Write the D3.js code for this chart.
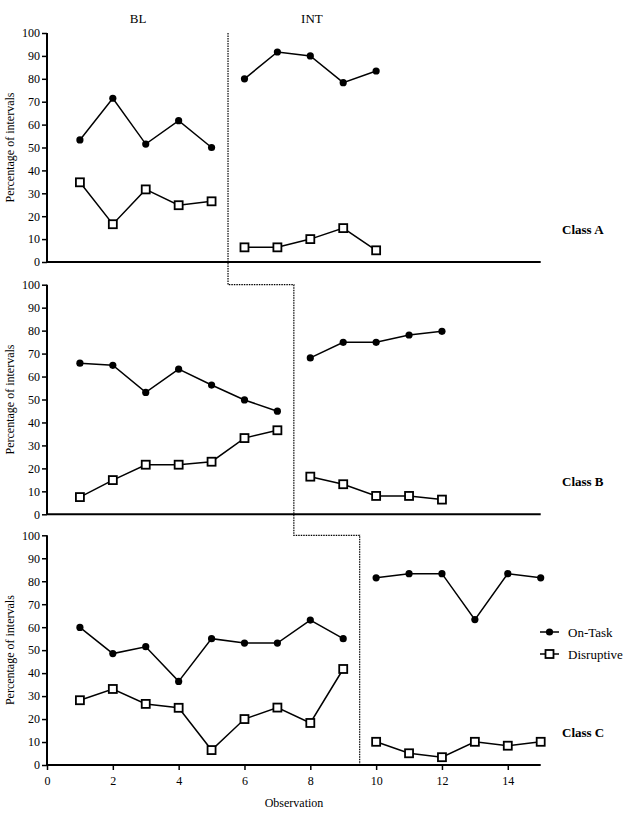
<!DOCTYPE html>
<html>
<head>
<meta charset="utf-8">
<script src="https://cdn.jsdelivr.net/npm/d3@7"></script>
<style>
  body { margin: 0; background: #fff; }
</style>
</head>
<body>
<div id="chart"></div>
<script>
// observations per class, split by phase (BL / INT)
const obsA_BL = [1, 2, 3, 4, 5]
const obsA_INT = [6, 7, 8, 9, 10]
const obsB_BL = [1, 2, 3, 4, 5, 6, 7]
const obsB_INT = [8, 9, 10, 11, 12]
const obsC_BL = [1, 2, 3, 4, 5, 6, 7, 8, 9]
const obsC_INT = [10, 11, 12, 13, 14, 15]

const onTaskA_BL = [53.3, 71.5, 51.5, 61.7, 50]
const onTaskA_INT = [80, 91.7, 90, 78.3, 83.4]
const disruptA_BL = [34.8, 16.5, 31.7, 24.8, 26.5]
const disruptA_INT = [6.4, 6.4, 10, 14.8, 5.1]

const onTaskB_BL = [65.8, 64.9, 53.1, 63.2, 56.3, 49.8, 44.9]
const onTaskB_INT = [68.1, 74.9, 74.9, 78.1, 79.7]
const disruptB_BL = [7.5, 14.9, 21.6, 21.6, 22.9, 33.2, 36.6]
const disruptB_INT = [16.4, 13.1, 8, 8, 6.4]

const onTaskC_BL = [59.9, 48.5, 51.5, 36.4, 55, 53.1, 53.1, 63.1, 55]
const onTaskC_INT = [81.5, 83.3, 83.3, 63.3, 83.3, 81.5]
const disruptC_BL = [28.2, 33.1, 26.6, 24.9, 6.5, 20, 25, 18.3, 41.8]
const disruptC_INT = [10.1, 5.1, 3.4, 10.1, 8.4, 10.1]

const classNames = ["Class A", "Class B", "Class C"]
const phaseNames = ["BL", "INT"]
const phaseChange = [5.5, 7.5, 9.5]   // x of the phase change line per class
const yTicks = [0, 10, 20, 30, 40, 50, 60, 70, 80, 90, 100]
const xTicks = [0, 2, 4, 6, 8, 10, 12, 14]
const legendNames = ["On-Task", "Disruptive"]

const width = 629, height = 827
const serif = "'Liberation Serif', 'Times New Roman', serif"

const svg = d3.select("#chart").append("svg")
    .attr("width", width)
    .attr("height", height)
    .style("font-family", serif)

var xScale = d3.scaleLinear().domain([0, 15]).range([47, 540.7])

// one y scale per panel
var panelRanges = [[262, 33], [514.3, 284.7], [765, 535.3]]
var yScales = panelRanges.map(function(r) {
    return d3.scaleLinear().domain([0, 100]).range(r)
})

var panels = [
    {obsBL: obsA_BL, obsINT: obsA_INT, on: [onTaskA_BL, onTaskA_INT], dis: [disruptA_BL, disruptA_INT]},
    {obsBL: obsB_BL, obsINT: obsB_INT, on: [onTaskB_BL, onTaskB_INT], dis: [disruptB_BL, disruptB_INT]},
    {obsBL: obsC_BL, obsINT: obsC_INT, on: [onTaskC_BL, onTaskC_INT], dis: [disruptC_BL, disruptC_INT]}
]

var line = d3.line()
    .x(function(d) { return xScale(d.x) })

panels.forEach(function(p, i) {
    var y = yScales[i]
    var g = svg.append("g")

    // y axis
    var yAxis = g.append("g")
        .attr("transform", "translate(" + xScale(0) + ",0)")
        .call(d3.axisLeft(y).tickValues(yTicks).tickSize(5).tickPadding(2))
    yAxis.select(".domain").attr("stroke-width", 2).attr("d", "M0," + y(0) + "V" + y(100))
    yAxis.selectAll(".tick line").attr("stroke-width", 1.5)
    yAxis.selectAll("text")
        .attr("font-size", 12)
        .style("font-family", serif)

    // x axis
    var xAxis = g.append("g")
        .attr("transform", "translate(0," + y(0) + ")")
        .call(d3.axisBottom(xScale).tickValues(i === 2 ? xTicks : []).tickSize(i === 2 ? 5 : 0).tickPadding(6))
    xAxis.select(".domain").attr("stroke-width", 2).attr("d", "M" + xScale(0) + ",0H" + xScale(15))
    xAxis.selectAll(".tick line").attr("stroke-width", 1.5)
    xAxis.selectAll("text")
        .attr("font-size", 12)
        .style("font-family", serif)

    // y axis title
    g.append("text")
        .attr("transform", "translate(14," + y(50) + ") rotate(-90)")
        .attr("text-anchor", "middle")
        .attr("font-size", 12)
        .style("font-family", serif)
        .text("Percentage of intervals")

    // class label
    g.append("text")
        .attr("x", 562)
        .attr("y", y(14) + 4)
        .attr("font-size", 13)
        .attr("font-weight", "bold")
        .style("font-family", serif)
        .text(classNames[i])

    // series, one segment per phase
    var phaseObs = [p.obsBL, p.obsINT]
    phaseObs.forEach(function(obs, k) {
        var onPts = obs.map(function(o, j) { return {x: o, v: p.on[k][j]} })
        var disPts = obs.map(function(o, j) { return {x: o, v: p.dis[k][j]} })
        line.y(function(d) { return y(d.v) })

        g.append("path").datum(onPts)
            .attr("d", line)
            .attr("fill", "none")
            .attr("stroke", "#000")
            .attr("stroke-width", 1.5)
        g.append("path").datum(disPts)
            .attr("d", line)
            .attr("fill", "none")
            .attr("stroke", "#000")
            .attr("stroke-width", 1.5)

        g.selectAll(null).data(onPts).enter()
            .append("circle")
            .attr("cx", function(d) { return xScale(d.x) })
            .attr("cy", function(d) { return y(d.v) })
            .attr("r", 3.6)
            .attr("fill", "#000")

        g.selectAll(null).data(disPts).enter()
            .append("rect")
            .attr("x", function(d) { return xScale(d.x) - 4 })
            .attr("y", function(d) { return y(d.v) - 4 })
            .attr("width", 8)
            .attr("height", 8)
            .attr("fill", "#fff")
            .attr("stroke", "#000")
            .attr("stroke-width", 1.8)
    })
})

// phase change staircase
var stairs = [
    [phaseChange[0], yScales[0](100)],
    [phaseChange[0], yScales[1](100)],
    [phaseChange[1], yScales[1](100)],
    [phaseChange[1], yScales[2](100)],
    [phaseChange[2], yScales[2](100)],
    [phaseChange[2], yScales[2](0)]
]
svg.append("path")
    .datum(stairs)
    .attr("d", d3.line().x(function(d) { return xScale(d[0]) }).y(function(d) { return d[1] }))
    .attr("fill", "none")
    .attr("stroke", "#000")
    .attr("stroke-width", 1.2)
    .attr("stroke-dasharray", "1.5,1")

// phase titles
svg.selectAll(".phase").data(phaseNames).enter()
    .append("text")
    .attr("class", "phase")
    .attr("x", function(d, i) { return i === 0 ? xScale(2.77) : xScale(8.05) })
    .attr("y", 23)
    .attr("text-anchor", "middle")
    .attr("font-size", 13)
    .style("font-family", serif)
    .text(function(d) { return d })

// x axis title
svg.append("text")
    .attr("x", 294)
    .attr("y", 807)
    .attr("text-anchor", "middle")
    .attr("font-size", 12)
    .style("font-family", serif)
    .text("Observation")

// legend
var legend = svg.selectAll(".legend").data(legendNames).enter()
    .append("g")
    .attr("class", "legend")
    .attr("transform", function(d, i) { return "translate(0," + (632 + i * 22) + ")" })
legend.append("line")
    .attr("x1", 540).attr("x2", 559)
    .attr("stroke", "#000").attr("stroke-width", 1.5)
legend.each(function(d, i) {
    var s = d3.select(this)
    if (i === 0) {
        s.append("circle").attr("cx", 549.5).attr("r", 3.6).attr("fill", "#000")
    } else {
        s.append("rect").attr("x", 545.5).attr("y", -4).attr("width", 8).attr("height", 8)
            .attr("fill", "#fff").attr("stroke", "#000").attr("stroke-width", 1.8)
    }
})
legend.append("text")
    .attr("x", 568)
    .attr("y", 4.5)
    .attr("font-size", 13)
    .style("font-family", serif)
    .text(function(d) { return d })
</script>
</body>
</html>
